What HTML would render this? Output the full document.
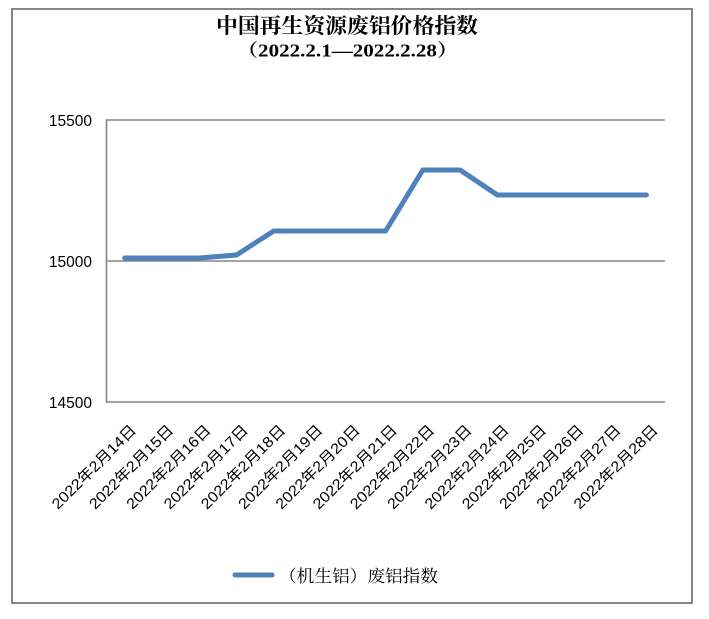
<!DOCTYPE html>
<html>
<head>
<meta charset="utf-8">
<style>
  html, body { margin: 0; padding: 0; background: #ffffff; }
  svg { display: block; }
  .cjk { font-family: "Liberation Serif", "Noto Serif CJK SC", serif; }
  .lab { font-family: "Liberation Sans", "Noto Sans CJK SC", sans-serif; font-size: 15px; fill: #000; }
  .ytick { font-family: "Liberation Sans", sans-serif; font-size: 15.5px; fill: #000; }
</style>
</head>
<body>
<svg width="709" height="619" viewBox="0 0 709 619" xmlns="http://www.w3.org/2000/svg">
  <rect x="0" y="0" width="709" height="619" fill="#ffffff"/>
  <!-- outer border -->
  <rect x="12" y="9" width="680" height="594" fill="none" stroke="#868686" stroke-width="2"/>

  <!-- title -->
  <text class="cjk" x="216" y="33" font-size="21" font-weight="700" fill="#000" textLength="262" lengthAdjust="spacingAndGlyphs">中国再生资源废铝价格指数</text>
  <text class="cjk" x="237" y="56.5" font-size="18" font-weight="700" fill="#000" textLength="221" lengthAdjust="spacingAndGlyphs">（2022.2.1—2022.2.28）</text>

  <!-- gridlines -->
  <g stroke="#868686" stroke-width="1.6" fill="none">
    <line x1="106" y1="120" x2="665" y2="120"/>
    <line x1="106" y1="261" x2="665" y2="261"/>
    <line x1="106" y1="402" x2="665" y2="402"/>
    <line x1="106.5" y1="119.5" x2="106.5" y2="402.5"/>
  </g>

  <!-- y tick labels -->
  <text class="ytick" x="92" y="126" text-anchor="end">15500</text>
  <text class="ytick" x="92" y="267" text-anchor="end">15000</text>
  <text class="ytick" x="92" y="408" text-anchor="end">14500</text>

  <!-- data line -->
  <polyline fill="none" stroke="#4F81BD" stroke-width="5" stroke-linecap="round" stroke-linejoin="round"
    points="124.6,258 161.9,258 199.2,258 236.5,255 273.7,231 311,231 348.3,231 385.6,231 422.8,170 460.1,170 497.4,195 534.7,195 572,195 609.2,195 646.4,195"/>

  <!-- x labels -->
  <g class="lab">
    <text transform="translate(137.1,431) rotate(-45)" text-anchor="end" textLength="112" lengthAdjust="spacingAndGlyphs">2022年2月14日</text>
    <text transform="translate(174.4,431) rotate(-45)" text-anchor="end" textLength="112" lengthAdjust="spacingAndGlyphs">2022年2月15日</text>
    <text transform="translate(211.7,431) rotate(-45)" text-anchor="end" textLength="112" lengthAdjust="spacingAndGlyphs">2022年2月16日</text>
    <text transform="translate(249,431) rotate(-45)" text-anchor="end" textLength="112" lengthAdjust="spacingAndGlyphs">2022年2月17日</text>
    <text transform="translate(286.2,431) rotate(-45)" text-anchor="end" textLength="112" lengthAdjust="spacingAndGlyphs">2022年2月18日</text>
    <text transform="translate(323.5,431) rotate(-45)" text-anchor="end" textLength="112" lengthAdjust="spacingAndGlyphs">2022年2月19日</text>
    <text transform="translate(360.8,431) rotate(-45)" text-anchor="end" textLength="112" lengthAdjust="spacingAndGlyphs">2022年2月20日</text>
    <text transform="translate(398.1,431) rotate(-45)" text-anchor="end" textLength="112" lengthAdjust="spacingAndGlyphs">2022年2月21日</text>
    <text transform="translate(435.3,431) rotate(-45)" text-anchor="end" textLength="112" lengthAdjust="spacingAndGlyphs">2022年2月22日</text>
    <text transform="translate(472.6,431) rotate(-45)" text-anchor="end" textLength="112" lengthAdjust="spacingAndGlyphs">2022年2月23日</text>
    <text transform="translate(509.9,431) rotate(-45)" text-anchor="end" textLength="112" lengthAdjust="spacingAndGlyphs">2022年2月24日</text>
    <text transform="translate(547.2,431) rotate(-45)" text-anchor="end" textLength="112" lengthAdjust="spacingAndGlyphs">2022年2月25日</text>
    <text transform="translate(584.5,431) rotate(-45)" text-anchor="end" textLength="112" lengthAdjust="spacingAndGlyphs">2022年2月26日</text>
    <text transform="translate(621.7,431) rotate(-45)" text-anchor="end" textLength="112" lengthAdjust="spacingAndGlyphs">2022年2月27日</text>
    <text transform="translate(658.9,431) rotate(-45)" text-anchor="end" textLength="112" lengthAdjust="spacingAndGlyphs">2022年2月28日</text>
  </g>

  <!-- legend -->
  <line x1="235" y1="575" x2="272" y2="575" stroke="#4F81BD" stroke-width="5" stroke-linecap="round"/>
  <text x="279" y="582" font-family="Liberation Serif, 'Noto Serif CJK SC', serif" font-size="17" fill="#000" textLength="159" lengthAdjust="spacingAndGlyphs">（机生铝）废铝指数</text>
</svg>
</body>
</html>
